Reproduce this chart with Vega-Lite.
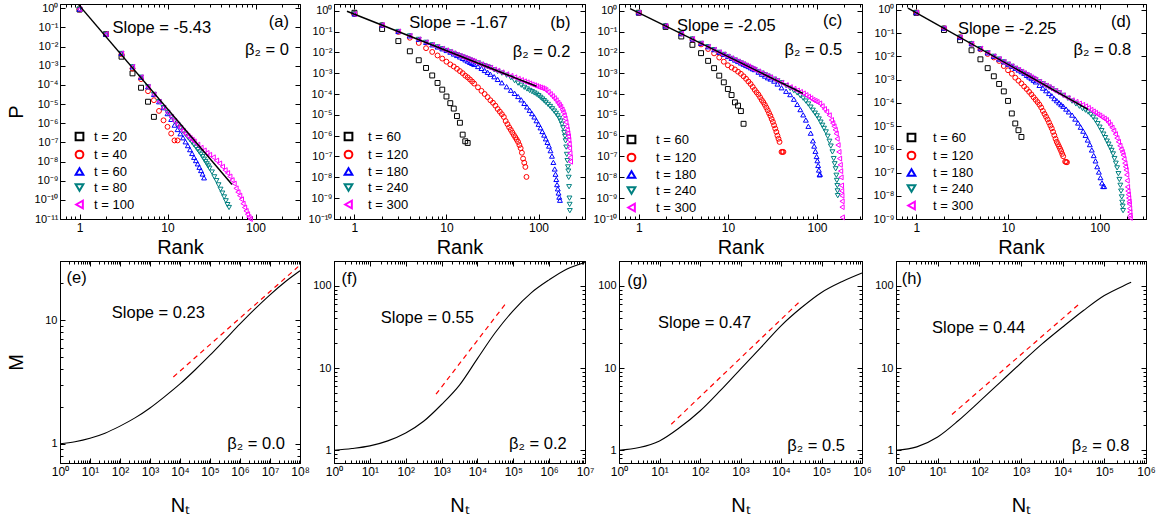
{
"$schema": "https://vega.github.io/schema/vega-lite/v6.json",
"background": "white",
"padding": {"left": 5, "top": 0, "right": 5, "bottom": 5},
"resolve": {"scale": {"color": "independent", "shape": "independent"}, "legend": {"color": "independent", "shape": "independent"}},
"datasets": {
"pts": [
{"p":"a","t":"t = 20","r":1,"lp":-0.07},{"p":"a","t":"t = 20","r":2,"lp":-1.35},{"p":"a","t":"t = 20","r":3,"lp":-2.53},{"p":"a","t":"t = 20","r":4,"lp":-3.4},{"p":"a","t":"t = 20","r":5,"lp":-4.15},{"p":"a","t":"t = 20","r":6,"lp":-4.88},{"p":"a","t":"t = 20","r":7,"lp":-5.67},
{"p":"a","t":"t = 40","r":1,"lp":-0.07},{"p":"a","t":"t = 40","r":2,"lp":-1.35},{"p":"a","t":"t = 40","r":3,"lp":-2.4},{"p":"a","t":"t = 40","r":4,"lp":-3.15},{"p":"a","t":"t = 40","r":5,"lp":-3.7},{"p":"a","t":"t = 40","r":6,"lp":-4.33},{"p":"a","t":"t = 40","r":7,"lp":-4.8},{"p":"a","t":"t = 40","r":8,"lp":-5.36},{"p":"a","t":"t = 40","r":9,"lp":-5.85},{"p":"a","t":"t = 40","r":10,"lp":-6.19},{"p":"a","t":"t = 40","r":11,"lp":-6.54},{"p":"a","t":"t = 40","r":12,"lp":-6.9},{"p":"a","t":"t = 40","r":13,"lp":-6.9},
{"p":"a","t":"t = 60","r":1,"lp":-0.05},{"p":"a","t":"t = 60","r":2,"lp":-1.35},{"p":"a","t":"t = 60","r":3,"lp":-2.36},{"p":"a","t":"t = 60","r":4,"lp":-3.06},{"p":"a","t":"t = 60","r":5,"lp":-3.6},{"p":"a","t":"t = 60","r":6,"lp":-4.1},{"p":"a","t":"t = 60","r":7,"lp":-4.5},{"p":"a","t":"t = 60","r":8,"lp":-4.88},{"p":"a","t":"t = 60","r":9,"lp":-5.19},{"p":"a","t":"t = 60","r":10,"lp":-5.5},{"p":"a","t":"t = 60","r":11,"lp":-5.8},{"p":"a","t":"t = 60","r":12,"lp":-6.1},{"p":"a","t":"t = 60","r":13,"lp":-6.33},{"p":"a","t":"t = 60","r":14,"lp":-6.55},{"p":"a","t":"t = 60","r":15,"lp":-6.76},{"p":"a","t":"t = 60","r":16,"lp":-6.97},{"p":"a","t":"t = 60","r":17,"lp":-7.17},{"p":"a","t":"t = 60","r":18,"lp":-7.38},{"p":"a","t":"t = 60","r":19,"lp":-7.58},{"p":"a","t":"t = 60","r":20,"lp":-7.78},{"p":"a","t":"t = 60","r":21,"lp":-7.95},{"p":"a","t":"t = 60","r":22,"lp":-8.12},{"p":"a","t":"t = 60","r":23,"lp":-8.3},{"p":"a","t":"t = 60","r":24,"lp":-8.47},{"p":"a","t":"t = 60","r":25,"lp":-8.65},{"p":"a","t":"t = 60","r":26,"lp":-8.85},
{"p":"a","t":"t = 80","r":1,"lp":-0.05},{"p":"a","t":"t = 80","r":2,"lp":-1.35},{"p":"a","t":"t = 80","r":3,"lp":-2.36},{"p":"a","t":"t = 80","r":4,"lp":-3.06},{"p":"a","t":"t = 80","r":5,"lp":-3.6},{"p":"a","t":"t = 80","r":6,"lp":-4.1},{"p":"a","t":"t = 80","r":7,"lp":-4.5},{"p":"a","t":"t = 80","r":8,"lp":-4.88},{"p":"a","t":"t = 80","r":9,"lp":-5.19},{"p":"a","t":"t = 80","r":10,"lp":-5.44},{"p":"a","t":"t = 80","r":11,"lp":-5.68},{"p":"a","t":"t = 80","r":12,"lp":-5.89},{"p":"a","t":"t = 80","r":13,"lp":-6.07},{"p":"a","t":"t = 80","r":14,"lp":-6.24},{"p":"a","t":"t = 80","r":15,"lp":-6.42},{"p":"a","t":"t = 80","r":16,"lp":-6.58},{"p":"a","t":"t = 80","r":17,"lp":-6.73},{"p":"a","t":"t = 80","r":18,"lp":-6.87},{"p":"a","t":"t = 80","r":19,"lp":-7.0},{"p":"a","t":"t = 80","r":20,"lp":-7.13},{"p":"a","t":"t = 80","r":21,"lp":-7.25},{"p":"a","t":"t = 80","r":22,"lp":-7.38},{"p":"a","t":"t = 80","r":23,"lp":-7.5},{"p":"a","t":"t = 80","r":24,"lp":-7.62},{"p":"a","t":"t = 80","r":25,"lp":-7.75},{"p":"a","t":"t = 80","r":26,"lp":-7.88},{"p":"a","t":"t = 80","r":27,"lp":-8.0},{"p":"a","t":"t = 80","r":28,"lp":-8.12},{"p":"a","t":"t = 80","r":29,"lp":-8.23},{"p":"a","t":"t = 80","r":30,"lp":-8.35},{"p":"a","t":"t = 80","r":32,"lp":-8.55},{"p":"a","t":"t = 80","r":34,"lp":-8.8},{"p":"a","t":"t = 80","r":36,"lp":-9.0},{"p":"a","t":"t = 80","r":38,"lp":-9.22},{"p":"a","t":"t = 80","r":40,"lp":-9.45},{"p":"a","t":"t = 80","r":42,"lp":-9.65},{"p":"a","t":"t = 80","r":44,"lp":-9.85},{"p":"a","t":"t = 80","r":46,"lp":-10.05},{"p":"a","t":"t = 80","r":48,"lp":-10.25},{"p":"a","t":"t = 80","r":50,"lp":-10.4},
{"p":"a","t":"t = 100","r":1,"lp":-0.05},{"p":"a","t":"t = 100","r":2,"lp":-1.35},{"p":"a","t":"t = 100","r":3,"lp":-2.36},{"p":"a","t":"t = 100","r":4,"lp":-3.06},{"p":"a","t":"t = 100","r":5,"lp":-3.6},{"p":"a","t":"t = 100","r":6,"lp":-4.1},{"p":"a","t":"t = 100","r":7,"lp":-4.5},{"p":"a","t":"t = 100","r":8,"lp":-4.88},{"p":"a","t":"t = 100","r":9,"lp":-5.19},{"p":"a","t":"t = 100","r":10,"lp":-5.44},{"p":"a","t":"t = 100","r":11,"lp":-5.68},{"p":"a","t":"t = 100","r":12,"lp":-5.89},{"p":"a","t":"t = 100","r":13,"lp":-6.07},{"p":"a","t":"t = 100","r":14,"lp":-6.24},{"p":"a","t":"t = 100","r":15,"lp":-6.4},{"p":"a","t":"t = 100","r":16,"lp":-6.54},{"p":"a","t":"t = 100","r":17,"lp":-6.66},{"p":"a","t":"t = 100","r":18,"lp":-6.77},{"p":"a","t":"t = 100","r":19,"lp":-6.86},{"p":"a","t":"t = 100","r":20,"lp":-6.95},{"p":"a","t":"t = 100","r":22,"lp":-7.12},{"p":"a","t":"t = 100","r":24,"lp":-7.28},{"p":"a","t":"t = 100","r":26,"lp":-7.42},{"p":"a","t":"t = 100","r":28,"lp":-7.55},{"p":"a","t":"t = 100","r":30,"lp":-7.65},{"p":"a","t":"t = 100","r":33,"lp":-7.78},{"p":"a","t":"t = 100","r":36,"lp":-7.95},{"p":"a","t":"t = 100","r":39,"lp":-8.1},{"p":"a","t":"t = 100","r":42,"lp":-8.27},{"p":"a","t":"t = 100","r":45,"lp":-8.45},{"p":"a","t":"t = 100","r":48,"lp":-8.6},{"p":"a","t":"t = 100","r":51,"lp":-8.78},{"p":"a","t":"t = 100","r":54,"lp":-8.97},{"p":"a","t":"t = 100","r":57,"lp":-9.15},{"p":"a","t":"t = 100","r":60,"lp":-9.4},{"p":"a","t":"t = 100","r":63,"lp":-9.6},{"p":"a","t":"t = 100","r":66,"lp":-9.78},{"p":"a","t":"t = 100","r":69,"lp":-9.97},{"p":"a","t":"t = 100","r":72,"lp":-10.2},{"p":"a","t":"t = 100","r":75,"lp":-10.4},{"p":"a","t":"t = 100","r":78,"lp":-10.58},{"p":"a","t":"t = 100","r":81,"lp":-10.75},{"p":"a","t":"t = 100","r":84,"lp":-10.9},{"p":"a","t":"t = 100","r":87,"lp":-11.0},

{"p":"b","t":"t = 60","r":1,"lp":-0.1},{"p":"b","t":"t = 60","r":2,"lp":-0.88},{"p":"b","t":"t = 60","r":3,"lp":-1.46},{"p":"b","t":"t = 60","r":4,"lp":-1.95},{"p":"b","t":"t = 60","r":5,"lp":-2.38},{"p":"b","t":"t = 60","r":6,"lp":-2.75},{"p":"b","t":"t = 60","r":7,"lp":-3.11},{"p":"b","t":"t = 60","r":8,"lp":-3.47},{"p":"b","t":"t = 60","r":9,"lp":-3.79},{"p":"b","t":"t = 60","r":10,"lp":-4.12},{"p":"b","t":"t = 60","r":11,"lp":-4.44},{"p":"b","t":"t = 60","r":12,"lp":-4.7},{"p":"b","t":"t = 60","r":13,"lp":-5.06},{"p":"b","t":"t = 60","r":14,"lp":-5.38},{"p":"b","t":"t = 60","r":15,"lp":-5.95},{"p":"b","t":"t = 60","r":16,"lp":-6.27},{"p":"b","t":"t = 60","r":17,"lp":-6.35},
{"p":"b","t":"t = 120","r":1,"lp":-0.16},{"p":"b","t":"t = 120","r":2,"lp":-0.69},{"p":"b","t":"t = 120","r":3,"lp":-1.02},{"p":"b","t":"t = 120","r":4,"lp":-1.3},{"p":"b","t":"t = 120","r":5,"lp":-1.55},{"p":"b","t":"t = 120","r":6,"lp":-1.8},{"p":"b","t":"t = 120","r":7,"lp":-1.98},{"p":"b","t":"t = 120","r":8,"lp":-2.15},{"p":"b","t":"t = 120","r":9,"lp":-2.3},{"p":"b","t":"t = 120","r":10,"lp":-2.45},{"p":"b","t":"t = 120","r":11,"lp":-2.58},{"p":"b","t":"t = 120","r":12,"lp":-2.68},{"p":"b","t":"t = 120","r":13,"lp":-2.79},{"p":"b","t":"t = 120","r":14,"lp":-2.9},{"p":"b","t":"t = 120","r":15,"lp":-3.0},{"p":"b","t":"t = 120","r":16,"lp":-3.12},{"p":"b","t":"t = 120","r":17,"lp":-3.2},{"p":"b","t":"t = 120","r":18,"lp":-3.3},{"p":"b","t":"t = 120","r":19,"lp":-3.4},{"p":"b","t":"t = 120","r":20,"lp":-3.5},{"p":"b","t":"t = 120","r":22,"lp":-3.68},{"p":"b","t":"t = 120","r":24,"lp":-3.85},{"p":"b","t":"t = 120","r":26,"lp":-4.0},{"p":"b","t":"t = 120","r":28,"lp":-4.15},{"p":"b","t":"t = 120","r":30,"lp":-4.3},{"p":"b","t":"t = 120","r":32,"lp":-4.42},{"p":"b","t":"t = 120","r":34,"lp":-4.56},{"p":"b","t":"t = 120","r":36,"lp":-4.72},{"p":"b","t":"t = 120","r":38,"lp":-4.85},{"p":"b","t":"t = 120","r":40,"lp":-4.97},{"p":"b","t":"t = 120","r":42,"lp":-5.1},{"p":"b","t":"t = 120","r":44,"lp":-5.3},{"p":"b","t":"t = 120","r":46,"lp":-5.45},{"p":"b","t":"t = 120","r":48,"lp":-5.6},{"p":"b","t":"t = 120","r":50,"lp":-5.72},{"p":"b","t":"t = 120","r":52,"lp":-5.85},{"p":"b","t":"t = 120","r":54,"lp":-5.97},{"p":"b","t":"t = 120","r":56,"lp":-6.08},{"p":"b","t":"t = 120","r":58,"lp":-6.19},{"p":"b","t":"t = 120","r":60,"lp":-6.3},{"p":"b","t":"t = 120","r":62,"lp":-6.45},{"p":"b","t":"t = 120","r":64,"lp":-6.6},{"p":"b","t":"t = 120","r":66,"lp":-6.82},{"p":"b","t":"t = 120","r":68,"lp":-7.1},{"p":"b","t":"t = 120","r":70,"lp":-7.3},{"p":"b","t":"t = 120","r":72,"lp":-7.5},{"p":"b","t":"t = 120","r":74,"lp":-7.98},
{"p":"b","t":"t = 180","r":1,"lp":-0.16},{"p":"b","t":"t = 180","r":2,"lp":-0.69},{"p":"b","t":"t = 180","r":3,"lp":-1.0},{"p":"b","t":"t = 180","r":4,"lp":-1.21},{"p":"b","t":"t = 180","r":5,"lp":-1.38},{"p":"b","t":"t = 180","r":6,"lp":-1.52},{"p":"b","t":"t = 180","r":7,"lp":-1.64},{"p":"b","t":"t = 180","r":8,"lp":-1.74},{"p":"b","t":"t = 180","r":9,"lp":-1.83},{"p":"b","t":"t = 180","r":10,"lp":-1.91},{"p":"b","t":"t = 180","r":11,"lp":-1.99},{"p":"b","t":"t = 180","r":12,"lp":-2.08},{"p":"b","t":"t = 180","r":13,"lp":-2.15},{"p":"b","t":"t = 180","r":14,"lp":-2.22},{"p":"b","t":"t = 180","r":15,"lp":-2.29},{"p":"b","t":"t = 180","r":16,"lp":-2.36},{"p":"b","t":"t = 180","r":17,"lp":-2.42},{"p":"b","t":"t = 180","r":18,"lp":-2.48},{"p":"b","t":"t = 180","r":19,"lp":-2.53},{"p":"b","t":"t = 180","r":20,"lp":-2.58},{"p":"b","t":"t = 180","r":22,"lp":-2.68},{"p":"b","t":"t = 180","r":24,"lp":-2.77},{"p":"b","t":"t = 180","r":26,"lp":-2.87},{"p":"b","t":"t = 180","r":28,"lp":-2.96},{"p":"b","t":"t = 180","r":30,"lp":-3.05},{"p":"b","t":"t = 180","r":33,"lp":-3.17},{"p":"b","t":"t = 180","r":36,"lp":-3.3},{"p":"b","t":"t = 180","r":40,"lp":-3.46},{"p":"b","t":"t = 180","r":45,"lp":-3.65},{"p":"b","t":"t = 180","r":50,"lp":-3.82},{"p":"b","t":"t = 180","r":55,"lp":-3.97},{"p":"b","t":"t = 180","r":60,"lp":-4.12},{"p":"b","t":"t = 180","r":65,"lp":-4.28},{"p":"b","t":"t = 180","r":70,"lp":-4.45},{"p":"b","t":"t = 180","r":75,"lp":-4.62},{"p":"b","t":"t = 180","r":80,"lp":-4.78},{"p":"b","t":"t = 180","r":85,"lp":-4.94},{"p":"b","t":"t = 180","r":90,"lp":-5.1},{"p":"b","t":"t = 180","r":95,"lp":-5.28},{"p":"b","t":"t = 180","r":100,"lp":-5.45},{"p":"b","t":"t = 180","r":105,"lp":-5.62},{"p":"b","t":"t = 180","r":110,"lp":-5.8},{"p":"b","t":"t = 180","r":115,"lp":-5.97},{"p":"b","t":"t = 180","r":120,"lp":-6.15},{"p":"b","t":"t = 180","r":125,"lp":-6.32},{"p":"b","t":"t = 180","r":130,"lp":-6.5},{"p":"b","t":"t = 180","r":135,"lp":-6.72},{"p":"b","t":"t = 180","r":140,"lp":-6.98},{"p":"b","t":"t = 180","r":145,"lp":-7.28},{"p":"b","t":"t = 180","r":150,"lp":-7.6},{"p":"b","t":"t = 180","r":153,"lp":-7.85},{"p":"b","t":"t = 180","r":156,"lp":-8.1},{"p":"b","t":"t = 180","r":159,"lp":-8.35},{"p":"b","t":"t = 180","r":162,"lp":-8.55},{"p":"b","t":"t = 180","r":165,"lp":-8.75},{"p":"b","t":"t = 180","r":168,"lp":-8.95},{"p":"b","t":"t = 180","r":171,"lp":-9.1},
{"p":"b","t":"t = 240","r":1,"lp":-0.16},{"p":"b","t":"t = 240","r":2,"lp":-0.69},{"p":"b","t":"t = 240","r":3,"lp":-1.0},{"p":"b","t":"t = 240","r":4,"lp":-1.21},{"p":"b","t":"t = 240","r":5,"lp":-1.38},{"p":"b","t":"t = 240","r":6,"lp":-1.52},{"p":"b","t":"t = 240","r":7,"lp":-1.64},{"p":"b","t":"t = 240","r":8,"lp":-1.74},{"p":"b","t":"t = 240","r":9,"lp":-1.83},{"p":"b","t":"t = 240","r":10,"lp":-1.91},{"p":"b","t":"t = 240","r":11,"lp":-1.98},{"p":"b","t":"t = 240","r":12,"lp":-2.05},{"p":"b","t":"t = 240","r":13,"lp":-2.11},{"p":"b","t":"t = 240","r":14,"lp":-2.17},{"p":"b","t":"t = 240","r":15,"lp":-2.22},{"p":"b","t":"t = 240","r":16,"lp":-2.27},{"p":"b","t":"t = 240","r":17,"lp":-2.31},{"p":"b","t":"t = 240","r":18,"lp":-2.36},{"p":"b","t":"t = 240","r":19,"lp":-2.4},{"p":"b","t":"t = 240","r":20,"lp":-2.44},{"p":"b","t":"t = 240","r":22,"lp":-2.51},{"p":"b","t":"t = 240","r":24,"lp":-2.58},{"p":"b","t":"t = 240","r":26,"lp":-2.64},{"p":"b","t":"t = 240","r":28,"lp":-2.69},{"p":"b","t":"t = 240","r":30,"lp":-2.74},{"p":"b","t":"t = 240","r":33,"lp":-2.84},{"p":"b","t":"t = 240","r":36,"lp":-2.92},{"p":"b","t":"t = 240","r":40,"lp":-3.0},{"p":"b","t":"t = 240","r":45,"lp":-3.1},{"p":"b","t":"t = 240","r":50,"lp":-3.22},{"p":"b","t":"t = 240","r":55,"lp":-3.36},{"p":"b","t":"t = 240","r":60,"lp":-3.48},{"p":"b","t":"t = 240","r":65,"lp":-3.58},{"p":"b","t":"t = 240","r":70,"lp":-3.68},{"p":"b","t":"t = 240","r":75,"lp":-3.76},{"p":"b","t":"t = 240","r":80,"lp":-3.83},{"p":"b","t":"t = 240","r":85,"lp":-3.89},{"p":"b","t":"t = 240","r":90,"lp":-3.95},{"p":"b","t":"t = 240","r":95,"lp":-4.01},{"p":"b","t":"t = 240","r":100,"lp":-4.08},{"p":"b","t":"t = 240","r":105,"lp":-4.16},{"p":"b","t":"t = 240","r":110,"lp":-4.24},{"p":"b","t":"t = 240","r":115,"lp":-4.32},{"p":"b","t":"t = 240","r":120,"lp":-4.4},{"p":"b","t":"t = 240","r":127,"lp":-4.5},{"p":"b","t":"t = 240","r":134,"lp":-4.6},{"p":"b","t":"t = 240","r":141,"lp":-4.71},{"p":"b","t":"t = 240","r":148,"lp":-4.82},{"p":"b","t":"t = 240","r":155,"lp":-4.93},{"p":"b","t":"t = 240","r":162,"lp":-5.05},{"p":"b","t":"t = 240","r":168,"lp":-5.17},{"p":"b","t":"t = 240","r":174,"lp":-5.3},{"p":"b","t":"t = 240","r":180,"lp":-5.45},{"p":"b","t":"t = 240","r":185,"lp":-5.62},{"p":"b","t":"t = 240","r":190,"lp":-5.85},{"p":"b","t":"t = 240","r":194,"lp":-6.03},{"p":"b","t":"t = 240","r":197,"lp":-6.25},{"p":"b","t":"t = 240","r":200,"lp":-6.55},{"p":"b","t":"t = 240","r":203,"lp":-6.9},{"p":"b","t":"t = 240","r":206,"lp":-7.2},{"p":"b","t":"t = 240","r":209,"lp":-7.5},{"p":"b","t":"t = 240","r":211,"lp":-7.7},{"p":"b","t":"t = 240","r":213,"lp":-8.0},{"p":"b","t":"t = 240","r":215,"lp":-8.45},{"p":"b","t":"t = 240","r":217,"lp":-9.0},{"p":"b","t":"t = 240","r":218,"lp":-9.3},{"p":"b","t":"t = 240","r":219,"lp":-9.6},
{"p":"b","t":"t = 300","r":1,"lp":-0.16},{"p":"b","t":"t = 300","r":2,"lp":-0.69},{"p":"b","t":"t = 300","r":3,"lp":-1.0},{"p":"b","t":"t = 300","r":4,"lp":-1.21},{"p":"b","t":"t = 300","r":5,"lp":-1.38},{"p":"b","t":"t = 300","r":6,"lp":-1.52},{"p":"b","t":"t = 300","r":7,"lp":-1.64},{"p":"b","t":"t = 300","r":8,"lp":-1.74},{"p":"b","t":"t = 300","r":9,"lp":-1.83},{"p":"b","t":"t = 300","r":10,"lp":-1.91},{"p":"b","t":"t = 300","r":11,"lp":-1.98},{"p":"b","t":"t = 300","r":12,"lp":-2.05},{"p":"b","t":"t = 300","r":13,"lp":-2.11},{"p":"b","t":"t = 300","r":14,"lp":-2.17},{"p":"b","t":"t = 300","r":15,"lp":-2.22},{"p":"b","t":"t = 300","r":16,"lp":-2.27},{"p":"b","t":"t = 300","r":17,"lp":-2.31},{"p":"b","t":"t = 300","r":18,"lp":-2.36},{"p":"b","t":"t = 300","r":19,"lp":-2.4},{"p":"b","t":"t = 300","r":20,"lp":-2.44},{"p":"b","t":"t = 300","r":22,"lp":-2.51},{"p":"b","t":"t = 300","r":24,"lp":-2.58},{"p":"b","t":"t = 300","r":26,"lp":-2.64},{"p":"b","t":"t = 300","r":28,"lp":-2.69},{"p":"b","t":"t = 300","r":30,"lp":-2.74},{"p":"b","t":"t = 300","r":33,"lp":-2.82},{"p":"b","t":"t = 300","r":36,"lp":-2.88},{"p":"b","t":"t = 300","r":40,"lp":-2.96},{"p":"b","t":"t = 300","r":45,"lp":-3.05},{"p":"b","t":"t = 300","r":50,"lp":-3.13},{"p":"b","t":"t = 300","r":55,"lp":-3.2},{"p":"b","t":"t = 300","r":60,"lp":-3.27},{"p":"b","t":"t = 300","r":65,"lp":-3.33},{"p":"b","t":"t = 300","r":70,"lp":-3.39},{"p":"b","t":"t = 300","r":75,"lp":-3.44},{"p":"b","t":"t = 300","r":80,"lp":-3.49},{"p":"b","t":"t = 300","r":85,"lp":-3.54},{"p":"b","t":"t = 300","r":90,"lp":-3.58},{"p":"b","t":"t = 300","r":95,"lp":-3.62},{"p":"b","t":"t = 300","r":100,"lp":-3.66},{"p":"b","t":"t = 300","r":105,"lp":-3.69},{"p":"b","t":"t = 300","r":110,"lp":-3.72},{"p":"b","t":"t = 300","r":115,"lp":-3.76},{"p":"b","t":"t = 300","r":120,"lp":-3.81},{"p":"b","t":"t = 300","r":127,"lp":-3.9},{"p":"b","t":"t = 300","r":134,"lp":-4.0},{"p":"b","t":"t = 300","r":141,"lp":-4.1},{"p":"b","t":"t = 300","r":148,"lp":-4.2},{"p":"b","t":"t = 300","r":155,"lp":-4.3},{"p":"b","t":"t = 300","r":162,"lp":-4.42},{"p":"b","t":"t = 300","r":168,"lp":-4.52},{"p":"b","t":"t = 300","r":174,"lp":-4.62},{"p":"b","t":"t = 300","r":180,"lp":-4.75},{"p":"b","t":"t = 300","r":185,"lp":-4.87},{"p":"b","t":"t = 300","r":190,"lp":-5.02},{"p":"b","t":"t = 300","r":194,"lp":-5.18},{"p":"b","t":"t = 300","r":198,"lp":-5.35},{"p":"b","t":"t = 300","r":202,"lp":-5.55},{"p":"b","t":"t = 300","r":205,"lp":-5.72},{"p":"b","t":"t = 300","r":208,"lp":-5.88},{"p":"b","t":"t = 300","r":211,"lp":-6.03},{"p":"b","t":"t = 300","r":213,"lp":-6.2},{"p":"b","t":"t = 300","r":215,"lp":-6.4},{"p":"b","t":"t = 300","r":217,"lp":-6.6},{"p":"b","t":"t = 300","r":219,"lp":-6.84},{"p":"b","t":"t = 300","r":221,"lp":-7.05},{"p":"b","t":"t = 300","r":222,"lp":-7.25},

{"p":"c","t":"t = 60","r":1,"lp":-0.1},{"p":"c","t":"t = 60","r":2,"lp":-0.78},{"p":"c","t":"t = 60","r":3,"lp":-1.24},{"p":"c","t":"t = 60","r":4,"lp":-1.64},{"p":"c","t":"t = 60","r":5,"lp":-2.04},{"p":"c","t":"t = 60","r":6,"lp":-2.41},{"p":"c","t":"t = 60","r":7,"lp":-2.76},{"p":"c","t":"t = 60","r":8,"lp":-3.12},{"p":"c","t":"t = 60","r":9,"lp":-3.44},{"p":"c","t":"t = 60","r":10,"lp":-3.76},{"p":"c","t":"t = 60","r":11,"lp":-4.05},{"p":"c","t":"t = 60","r":12,"lp":-4.4},{"p":"c","t":"t = 60","r":13,"lp":-4.56},{"p":"c","t":"t = 60","r":14,"lp":-4.82},{"p":"c","t":"t = 60","r":15,"lp":-5.43},
{"p":"c","t":"t = 120","r":1,"lp":-0.1},{"p":"c","t":"t = 120","r":2,"lp":-0.73},{"p":"c","t":"t = 120","r":3,"lp":-1.1},{"p":"c","t":"t = 120","r":4,"lp":-1.38},{"p":"c","t":"t = 120","r":5,"lp":-1.62},{"p":"c","t":"t = 120","r":6,"lp":-1.84},{"p":"c","t":"t = 120","r":7,"lp":-2.05},{"p":"c","t":"t = 120","r":8,"lp":-2.25},{"p":"c","t":"t = 120","r":9,"lp":-2.45},{"p":"c","t":"t = 120","r":10,"lp":-2.62},{"p":"c","t":"t = 120","r":11,"lp":-2.73},{"p":"c","t":"t = 120","r":12,"lp":-2.82},{"p":"c","t":"t = 120","r":13,"lp":-2.93},{"p":"c","t":"t = 120","r":14,"lp":-3.03},{"p":"c","t":"t = 120","r":15,"lp":-3.15},{"p":"c","t":"t = 120","r":16,"lp":-3.27},{"p":"c","t":"t = 120","r":17,"lp":-3.4},{"p":"c","t":"t = 120","r":18,"lp":-3.52},{"p":"c","t":"t = 120","r":19,"lp":-3.66},{"p":"c","t":"t = 120","r":20,"lp":-3.8},{"p":"c","t":"t = 120","r":21,"lp":-3.92},{"p":"c","t":"t = 120","r":22,"lp":-4.03},{"p":"c","t":"t = 120","r":23,"lp":-4.16},{"p":"c","t":"t = 120","r":24,"lp":-4.29},{"p":"c","t":"t = 120","r":25,"lp":-4.4},{"p":"c","t":"t = 120","r":26,"lp":-4.52},{"p":"c","t":"t = 120","r":27,"lp":-4.65},{"p":"c","t":"t = 120","r":28,"lp":-4.78},{"p":"c","t":"t = 120","r":29,"lp":-4.92},{"p":"c","t":"t = 120","r":30,"lp":-5.05},{"p":"c","t":"t = 120","r":31,"lp":-5.2},{"p":"c","t":"t = 120","r":32,"lp":-5.34},{"p":"c","t":"t = 120","r":33,"lp":-5.5},{"p":"c","t":"t = 120","r":34,"lp":-5.66},{"p":"c","t":"t = 120","r":35,"lp":-5.82},{"p":"c","t":"t = 120","r":36,"lp":-6.0},{"p":"c","t":"t = 120","r":37,"lp":-6.15},{"p":"c","t":"t = 120","r":38,"lp":-6.3},{"p":"c","t":"t = 120","r":40,"lp":-6.78},{"p":"c","t":"t = 120","r":41,"lp":-6.78},{"p":"c","t":"t = 120","r":42,"lp":-6.78},
{"p":"c","t":"t = 180","r":1,"lp":-0.1},{"p":"c","t":"t = 180","r":2,"lp":-0.73},{"p":"c","t":"t = 180","r":3,"lp":-1.1},{"p":"c","t":"t = 180","r":4,"lp":-1.36},{"p":"c","t":"t = 180","r":5,"lp":-1.57},{"p":"c","t":"t = 180","r":6,"lp":-1.73},{"p":"c","t":"t = 180","r":7,"lp":-1.87},{"p":"c","t":"t = 180","r":8,"lp":-2.0},{"p":"c","t":"t = 180","r":9,"lp":-2.1},{"p":"c","t":"t = 180","r":10,"lp":-2.2},{"p":"c","t":"t = 180","r":11,"lp":-2.29},{"p":"c","t":"t = 180","r":12,"lp":-2.37},{"p":"c","t":"t = 180","r":13,"lp":-2.44},{"p":"c","t":"t = 180","r":14,"lp":-2.51},{"p":"c","t":"t = 180","r":15,"lp":-2.57},{"p":"c","t":"t = 180","r":16,"lp":-2.63},{"p":"c","t":"t = 180","r":17,"lp":-2.68},{"p":"c","t":"t = 180","r":18,"lp":-2.74},{"p":"c","t":"t = 180","r":19,"lp":-2.79},{"p":"c","t":"t = 180","r":20,"lp":-2.83},{"p":"c","t":"t = 180","r":22,"lp":-2.95},{"p":"c","t":"t = 180","r":24,"lp":-3.05},{"p":"c","t":"t = 180","r":26,"lp":-3.14},{"p":"c","t":"t = 180","r":28,"lp":-3.22},{"p":"c","t":"t = 180","r":30,"lp":-3.28},{"p":"c","t":"t = 180","r":33,"lp":-3.38},{"p":"c","t":"t = 180","r":36,"lp":-3.52},{"p":"c","t":"t = 180","r":40,"lp":-3.7},{"p":"c","t":"t = 180","r":45,"lp":-3.87},{"p":"c","t":"t = 180","r":50,"lp":-4.03},{"p":"c","t":"t = 180","r":55,"lp":-4.25},{"p":"c","t":"t = 180","r":60,"lp":-4.5},{"p":"c","t":"t = 180","r":65,"lp":-4.75},{"p":"c","t":"t = 180","r":70,"lp":-5.0},{"p":"c","t":"t = 180","r":75,"lp":-5.25},{"p":"c","t":"t = 180","r":80,"lp":-5.55},{"p":"c","t":"t = 180","r":85,"lp":-5.88},{"p":"c","t":"t = 180","r":90,"lp":-6.25},{"p":"c","t":"t = 180","r":93,"lp":-6.5},{"p":"c","t":"t = 180","r":96,"lp":-6.75},{"p":"c","t":"t = 180","r":99,"lp":-7.0},{"p":"c","t":"t = 180","r":101,"lp":-7.2},{"p":"c","t":"t = 180","r":103,"lp":-7.43},{"p":"c","t":"t = 180","r":105,"lp":-7.65},{"p":"c","t":"t = 180","r":107,"lp":-7.88},{"p":"c","t":"t = 180","r":108,"lp":-7.85},
{"p":"c","t":"t = 240","r":1,"lp":-0.1},{"p":"c","t":"t = 240","r":2,"lp":-0.73},{"p":"c","t":"t = 240","r":3,"lp":-1.1},{"p":"c","t":"t = 240","r":4,"lp":-1.36},{"p":"c","t":"t = 240","r":5,"lp":-1.57},{"p":"c","t":"t = 240","r":6,"lp":-1.73},{"p":"c","t":"t = 240","r":7,"lp":-1.87},{"p":"c","t":"t = 240","r":8,"lp":-2.0},{"p":"c","t":"t = 240","r":9,"lp":-2.1},{"p":"c","t":"t = 240","r":10,"lp":-2.2},{"p":"c","t":"t = 240","r":11,"lp":-2.29},{"p":"c","t":"t = 240","r":12,"lp":-2.37},{"p":"c","t":"t = 240","r":13,"lp":-2.44},{"p":"c","t":"t = 240","r":14,"lp":-2.51},{"p":"c","t":"t = 240","r":15,"lp":-2.57},{"p":"c","t":"t = 240","r":16,"lp":-2.63},{"p":"c","t":"t = 240","r":17,"lp":-2.68},{"p":"c","t":"t = 240","r":18,"lp":-2.74},{"p":"c","t":"t = 240","r":19,"lp":-2.79},{"p":"c","t":"t = 240","r":20,"lp":-2.83},{"p":"c","t":"t = 240","r":22,"lp":-2.92},{"p":"c","t":"t = 240","r":24,"lp":-3.0},{"p":"c","t":"t = 240","r":26,"lp":-3.07},{"p":"c","t":"t = 240","r":28,"lp":-3.14},{"p":"c","t":"t = 240","r":30,"lp":-3.2},{"p":"c","t":"t = 240","r":33,"lp":-3.29},{"p":"c","t":"t = 240","r":36,"lp":-3.37},{"p":"c","t":"t = 240","r":40,"lp":-3.46},{"p":"c","t":"t = 240","r":45,"lp":-3.6},{"p":"c","t":"t = 240","r":50,"lp":-3.73},{"p":"c","t":"t = 240","r":55,"lp":-3.84},{"p":"c","t":"t = 240","r":60,"lp":-3.95},{"p":"c","t":"t = 240","r":65,"lp":-4.08},{"p":"c","t":"t = 240","r":70,"lp":-4.2},{"p":"c","t":"t = 240","r":75,"lp":-4.34},{"p":"c","t":"t = 240","r":80,"lp":-4.48},{"p":"c","t":"t = 240","r":85,"lp":-4.63},{"p":"c","t":"t = 240","r":90,"lp":-4.78},{"p":"c","t":"t = 240","r":95,"lp":-4.92},{"p":"c","t":"t = 240","r":100,"lp":-5.05},{"p":"c","t":"t = 240","r":105,"lp":-5.2},{"p":"c","t":"t = 240","r":110,"lp":-5.35},{"p":"c","t":"t = 240","r":115,"lp":-5.5},{"p":"c","t":"t = 240","r":120,"lp":-5.65},{"p":"c","t":"t = 240","r":126,"lp":-5.82},{"p":"c","t":"t = 240","r":132,"lp":-6.03},{"p":"c","t":"t = 240","r":138,"lp":-6.27},{"p":"c","t":"t = 240","r":143,"lp":-6.5},{"p":"c","t":"t = 240","r":149,"lp":-6.78},{"p":"c","t":"t = 240","r":154,"lp":-7.1},{"p":"c","t":"t = 240","r":158,"lp":-7.35},{"p":"c","t":"t = 240","r":162,"lp":-7.59},{"p":"c","t":"t = 240","r":165,"lp":-7.9},{"p":"c","t":"t = 240","r":167,"lp":-8.15},{"p":"c","t":"t = 240","r":169,"lp":-8.4},{"p":"c","t":"t = 240","r":170,"lp":-8.65},{"p":"c","t":"t = 240","r":171,"lp":-8.88},
{"p":"c","t":"t = 300","r":1,"lp":-0.1},{"p":"c","t":"t = 300","r":2,"lp":-0.73},{"p":"c","t":"t = 300","r":3,"lp":-1.1},{"p":"c","t":"t = 300","r":4,"lp":-1.36},{"p":"c","t":"t = 300","r":5,"lp":-1.57},{"p":"c","t":"t = 300","r":6,"lp":-1.73},{"p":"c","t":"t = 300","r":7,"lp":-1.87},{"p":"c","t":"t = 300","r":8,"lp":-2.0},{"p":"c","t":"t = 300","r":9,"lp":-2.1},{"p":"c","t":"t = 300","r":10,"lp":-2.2},{"p":"c","t":"t = 300","r":11,"lp":-2.29},{"p":"c","t":"t = 300","r":12,"lp":-2.37},{"p":"c","t":"t = 300","r":13,"lp":-2.44},{"p":"c","t":"t = 300","r":14,"lp":-2.51},{"p":"c","t":"t = 300","r":15,"lp":-2.57},{"p":"c","t":"t = 300","r":16,"lp":-2.63},{"p":"c","t":"t = 300","r":17,"lp":-2.68},{"p":"c","t":"t = 300","r":18,"lp":-2.74},{"p":"c","t":"t = 300","r":19,"lp":-2.79},{"p":"c","t":"t = 300","r":20,"lp":-2.83},{"p":"c","t":"t = 300","r":22,"lp":-2.92},{"p":"c","t":"t = 300","r":24,"lp":-3.0},{"p":"c","t":"t = 300","r":26,"lp":-3.07},{"p":"c","t":"t = 300","r":28,"lp":-3.14},{"p":"c","t":"t = 300","r":30,"lp":-3.2},{"p":"c","t":"t = 300","r":33,"lp":-3.29},{"p":"c","t":"t = 300","r":36,"lp":-3.37},{"p":"c","t":"t = 300","r":40,"lp":-3.46},{"p":"c","t":"t = 300","r":45,"lp":-3.57},{"p":"c","t":"t = 300","r":50,"lp":-3.67},{"p":"c","t":"t = 300","r":55,"lp":-3.75},{"p":"c","t":"t = 300","r":60,"lp":-3.83},{"p":"c","t":"t = 300","r":65,"lp":-3.9},{"p":"c","t":"t = 300","r":70,"lp":-3.97},{"p":"c","t":"t = 300","r":75,"lp":-4.05},{"p":"c","t":"t = 300","r":80,"lp":-4.13},{"p":"c","t":"t = 300","r":85,"lp":-4.2},{"p":"c","t":"t = 300","r":90,"lp":-4.28},{"p":"c","t":"t = 300","r":95,"lp":-4.33},{"p":"c","t":"t = 300","r":100,"lp":-4.38},{"p":"c","t":"t = 300","r":107,"lp":-4.45},{"p":"c","t":"t = 300","r":114,"lp":-4.58},{"p":"c","t":"t = 300","r":121,"lp":-4.72},{"p":"c","t":"t = 300","r":128,"lp":-4.85},{"p":"c","t":"t = 300","r":137,"lp":-5.02},{"p":"c","t":"t = 300","r":145,"lp":-5.25},{"p":"c","t":"t = 300","r":150,"lp":-5.4},{"p":"c","t":"t = 300","r":155,"lp":-5.55},{"p":"c","t":"t = 300","r":160,"lp":-5.72},{"p":"c","t":"t = 300","r":164,"lp":-5.9},{"p":"c","t":"t = 300","r":168,"lp":-6.15},{"p":"c","t":"t = 300","r":172,"lp":-6.45},{"p":"c","t":"t = 300","r":176,"lp":-6.78},{"p":"c","t":"t = 300","r":179,"lp":-7.1},{"p":"c","t":"t = 300","r":182,"lp":-7.4},{"p":"c","t":"t = 300","r":184,"lp":-7.7},{"p":"c","t":"t = 300","r":186,"lp":-8.0},{"p":"c","t":"t = 300","r":188,"lp":-8.39},{"p":"c","t":"t = 300","r":189,"lp":-8.65},{"p":"c","t":"t = 300","r":190,"lp":-8.88},{"p":"c","t":"t = 300","r":191,"lp":-9.15},{"p":"c","t":"t = 300","r":191,"lp":-9.43},{"p":"c","t":"t = 300","r":192,"lp":-9.92},

{"p":"d","t":"t = 60","r":1,"lp":-0.13},{"p":"d","t":"t = 60","r":2,"lp":-0.87},{"p":"d","t":"t = 60","r":3,"lp":-1.31},{"p":"d","t":"t = 60","r":4,"lp":-1.74},{"p":"d","t":"t = 60","r":5,"lp":-2.13},{"p":"d","t":"t = 60","r":6,"lp":-2.51},{"p":"d","t":"t = 60","r":7,"lp":-2.86},{"p":"d","t":"t = 60","r":8,"lp":-3.19},{"p":"d","t":"t = 60","r":9,"lp":-3.51},{"p":"d","t":"t = 60","r":10,"lp":-3.92},{"p":"d","t":"t = 60","r":11,"lp":-4.46},{"p":"d","t":"t = 60","r":12,"lp":-4.89},{"p":"d","t":"t = 60","r":13,"lp":-5.18},{"p":"d","t":"t = 60","r":14,"lp":-5.47},
{"p":"d","t":"t = 120","r":1,"lp":-0.12},{"p":"d","t":"t = 120","r":2,"lp":-0.79},{"p":"d","t":"t = 120","r":3,"lp":-1.18},{"p":"d","t":"t = 120","r":4,"lp":-1.46},{"p":"d","t":"t = 120","r":5,"lp":-1.7},{"p":"d","t":"t = 120","r":6,"lp":-1.9},{"p":"d","t":"t = 120","r":7,"lp":-2.05},{"p":"d","t":"t = 120","r":8,"lp":-2.2},{"p":"d","t":"t = 120","r":9,"lp":-2.42},{"p":"d","t":"t = 120","r":10,"lp":-2.6},{"p":"d","t":"t = 120","r":11,"lp":-2.75},{"p":"d","t":"t = 120","r":12,"lp":-2.92},{"p":"d","t":"t = 120","r":13,"lp":-3.05},{"p":"d","t":"t = 120","r":14,"lp":-3.17},{"p":"d","t":"t = 120","r":15,"lp":-3.3},{"p":"d","t":"t = 120","r":16,"lp":-3.41},{"p":"d","t":"t = 120","r":17,"lp":-3.53},{"p":"d","t":"t = 120","r":18,"lp":-3.64},{"p":"d","t":"t = 120","r":19,"lp":-3.76},{"p":"d","t":"t = 120","r":20,"lp":-3.87},{"p":"d","t":"t = 120","r":21,"lp":-3.97},{"p":"d","t":"t = 120","r":22,"lp":-4.08},{"p":"d","t":"t = 120","r":23,"lp":-4.2},{"p":"d","t":"t = 120","r":24,"lp":-4.35},{"p":"d","t":"t = 120","r":25,"lp":-4.48},{"p":"d","t":"t = 120","r":26,"lp":-4.6},{"p":"d","t":"t = 120","r":27,"lp":-4.72},{"p":"d","t":"t = 120","r":28,"lp":-4.85},{"p":"d","t":"t = 120","r":29,"lp":-4.98},{"p":"d","t":"t = 120","r":30,"lp":-5.1},{"p":"d","t":"t = 120","r":31,"lp":-5.25},{"p":"d","t":"t = 120","r":32,"lp":-5.4},{"p":"d","t":"t = 120","r":33,"lp":-5.55},{"p":"d","t":"t = 120","r":34,"lp":-5.68},{"p":"d","t":"t = 120","r":35,"lp":-5.78},{"p":"d","t":"t = 120","r":36,"lp":-5.88},{"p":"d","t":"t = 120","r":37,"lp":-5.98},{"p":"d","t":"t = 120","r":38,"lp":-6.08},{"p":"d","t":"t = 120","r":39,"lp":-6.2},{"p":"d","t":"t = 120","r":40,"lp":-6.3},{"p":"d","t":"t = 120","r":42,"lp":-6.53},{"p":"d","t":"t = 120","r":43,"lp":-6.55},{"p":"d","t":"t = 120","r":44,"lp":-6.56},
{"p":"d","t":"t = 180","r":1,"lp":-0.12},{"p":"d","t":"t = 180","r":2,"lp":-0.79},{"p":"d","t":"t = 180","r":3,"lp":-1.18},{"p":"d","t":"t = 180","r":4,"lp":-1.46},{"p":"d","t":"t = 180","r":5,"lp":-1.67},{"p":"d","t":"t = 180","r":6,"lp":-1.85},{"p":"d","t":"t = 180","r":7,"lp":-2.0},{"p":"d","t":"t = 180","r":8,"lp":-2.12},{"p":"d","t":"t = 180","r":9,"lp":-2.24},{"p":"d","t":"t = 180","r":10,"lp":-2.34},{"p":"d","t":"t = 180","r":11,"lp":-2.43},{"p":"d","t":"t = 180","r":12,"lp":-2.52},{"p":"d","t":"t = 180","r":13,"lp":-2.59},{"p":"d","t":"t = 180","r":14,"lp":-2.66},{"p":"d","t":"t = 180","r":15,"lp":-2.73},{"p":"d","t":"t = 180","r":16,"lp":-2.82},{"p":"d","t":"t = 180","r":17,"lp":-2.89},{"p":"d","t":"t = 180","r":18,"lp":-2.96},{"p":"d","t":"t = 180","r":19,"lp":-3.03},{"p":"d","t":"t = 180","r":20,"lp":-3.1},{"p":"d","t":"t = 180","r":22,"lp":-3.25},{"p":"d","t":"t = 180","r":24,"lp":-3.37},{"p":"d","t":"t = 180","r":26,"lp":-3.48},{"p":"d","t":"t = 180","r":28,"lp":-3.6},{"p":"d","t":"t = 180","r":30,"lp":-3.7},{"p":"d","t":"t = 180","r":32,"lp":-3.82},{"p":"d","t":"t = 180","r":34,"lp":-3.91},{"p":"d","t":"t = 180","r":36,"lp":-4.0},{"p":"d","t":"t = 180","r":38,"lp":-4.08},{"p":"d","t":"t = 180","r":40,"lp":-4.15},{"p":"d","t":"t = 180","r":43,"lp":-4.27},{"p":"d","t":"t = 180","r":46,"lp":-4.39},{"p":"d","t":"t = 180","r":50,"lp":-4.53},{"p":"d","t":"t = 180","r":54,"lp":-4.7},{"p":"d","t":"t = 180","r":58,"lp":-4.87},{"p":"d","t":"t = 180","r":62,"lp":-5.05},{"p":"d","t":"t = 180","r":66,"lp":-5.22},{"p":"d","t":"t = 180","r":70,"lp":-5.4},{"p":"d","t":"t = 180","r":74,"lp":-5.6},{"p":"d","t":"t = 180","r":78,"lp":-5.8},{"p":"d","t":"t = 180","r":82,"lp":-6.03},{"p":"d","t":"t = 180","r":86,"lp":-6.27},{"p":"d","t":"t = 180","r":90,"lp":-6.5},{"p":"d","t":"t = 180","r":94,"lp":-6.75},{"p":"d","t":"t = 180","r":98,"lp":-6.98},{"p":"d","t":"t = 180","r":102,"lp":-7.22},{"p":"d","t":"t = 180","r":106,"lp":-7.45},{"p":"d","t":"t = 180","r":109,"lp":-7.6},{"p":"d","t":"t = 180","r":112,"lp":-7.6},
{"p":"d","t":"t = 240","r":1,"lp":-0.12},{"p":"d","t":"t = 240","r":2,"lp":-0.79},{"p":"d","t":"t = 240","r":3,"lp":-1.18},{"p":"d","t":"t = 240","r":4,"lp":-1.46},{"p":"d","t":"t = 240","r":5,"lp":-1.67},{"p":"d","t":"t = 240","r":6,"lp":-1.85},{"p":"d","t":"t = 240","r":7,"lp":-2.0},{"p":"d","t":"t = 240","r":8,"lp":-2.12},{"p":"d","t":"t = 240","r":9,"lp":-2.24},{"p":"d","t":"t = 240","r":10,"lp":-2.34},{"p":"d","t":"t = 240","r":11,"lp":-2.43},{"p":"d","t":"t = 240","r":12,"lp":-2.52},{"p":"d","t":"t = 240","r":13,"lp":-2.59},{"p":"d","t":"t = 240","r":14,"lp":-2.66},{"p":"d","t":"t = 240","r":15,"lp":-2.73},{"p":"d","t":"t = 240","r":16,"lp":-2.79},{"p":"d","t":"t = 240","r":17,"lp":-2.85},{"p":"d","t":"t = 240","r":18,"lp":-2.91},{"p":"d","t":"t = 240","r":19,"lp":-2.96},{"p":"d","t":"t = 240","r":20,"lp":-3.01},{"p":"d","t":"t = 240","r":22,"lp":-3.1},{"p":"d","t":"t = 240","r":24,"lp":-3.18},{"p":"d","t":"t = 240","r":26,"lp":-3.26},{"p":"d","t":"t = 240","r":28,"lp":-3.33},{"p":"d","t":"t = 240","r":30,"lp":-3.4},{"p":"d","t":"t = 240","r":33,"lp":-3.49},{"p":"d","t":"t = 240","r":36,"lp":-3.57},{"p":"d","t":"t = 240","r":40,"lp":-3.68},{"p":"d","t":"t = 240","r":45,"lp":-3.81},{"p":"d","t":"t = 240","r":50,"lp":-3.93},{"p":"d","t":"t = 240","r":55,"lp":-4.05},{"p":"d","t":"t = 240","r":60,"lp":-4.15},{"p":"d","t":"t = 240","r":65,"lp":-4.25},{"p":"d","t":"t = 240","r":70,"lp":-4.32},{"p":"d","t":"t = 240","r":75,"lp":-4.4},{"p":"d","t":"t = 240","r":80,"lp":-4.5},{"p":"d","t":"t = 240","r":85,"lp":-4.62},{"p":"d","t":"t = 240","r":90,"lp":-4.75},{"p":"d","t":"t = 240","r":95,"lp":-4.9},{"p":"d","t":"t = 240","r":100,"lp":-5.05},{"p":"d","t":"t = 240","r":105,"lp":-5.2},{"p":"d","t":"t = 240","r":110,"lp":-5.35},{"p":"d","t":"t = 240","r":115,"lp":-5.5},{"p":"d","t":"t = 240","r":120,"lp":-5.65},{"p":"d","t":"t = 240","r":125,"lp":-5.78},{"p":"d","t":"t = 240","r":130,"lp":-5.92},{"p":"d","t":"t = 240","r":135,"lp":-6.05},{"p":"d","t":"t = 240","r":140,"lp":-6.2},{"p":"d","t":"t = 240","r":145,"lp":-6.4},{"p":"d","t":"t = 240","r":150,"lp":-6.6},{"p":"d","t":"t = 240","r":155,"lp":-6.8},{"p":"d","t":"t = 240","r":160,"lp":-7.05},{"p":"d","t":"t = 240","r":164,"lp":-7.3},{"p":"d","t":"t = 240","r":168,"lp":-7.55},{"p":"d","t":"t = 240","r":171,"lp":-7.8},{"p":"d","t":"t = 240","r":174,"lp":-8.05},{"p":"d","t":"t = 240","r":176,"lp":-8.28},{"p":"d","t":"t = 240","r":178,"lp":-8.45},{"p":"d","t":"t = 240","r":180,"lp":-8.64},
{"p":"d","t":"t = 300","r":1,"lp":-0.12},{"p":"d","t":"t = 300","r":2,"lp":-0.79},{"p":"d","t":"t = 300","r":3,"lp":-1.18},{"p":"d","t":"t = 300","r":4,"lp":-1.46},{"p":"d","t":"t = 300","r":5,"lp":-1.67},{"p":"d","t":"t = 300","r":6,"lp":-1.85},{"p":"d","t":"t = 300","r":7,"lp":-2.0},{"p":"d","t":"t = 300","r":8,"lp":-2.12},{"p":"d","t":"t = 300","r":9,"lp":-2.24},{"p":"d","t":"t = 300","r":10,"lp":-2.34},{"p":"d","t":"t = 300","r":11,"lp":-2.43},{"p":"d","t":"t = 300","r":12,"lp":-2.52},{"p":"d","t":"t = 300","r":13,"lp":-2.59},{"p":"d","t":"t = 300","r":14,"lp":-2.66},{"p":"d","t":"t = 300","r":15,"lp":-2.73},{"p":"d","t":"t = 300","r":16,"lp":-2.79},{"p":"d","t":"t = 300","r":17,"lp":-2.85},{"p":"d","t":"t = 300","r":18,"lp":-2.91},{"p":"d","t":"t = 300","r":19,"lp":-2.96},{"p":"d","t":"t = 300","r":20,"lp":-3.01},{"p":"d","t":"t = 300","r":22,"lp":-3.1},{"p":"d","t":"t = 300","r":24,"lp":-3.18},{"p":"d","t":"t = 300","r":26,"lp":-3.26},{"p":"d","t":"t = 300","r":28,"lp":-3.33},{"p":"d","t":"t = 300","r":30,"lp":-3.4},{"p":"d","t":"t = 300","r":33,"lp":-3.49},{"p":"d","t":"t = 300","r":36,"lp":-3.57},{"p":"d","t":"t = 300","r":40,"lp":-3.68},{"p":"d","t":"t = 300","r":45,"lp":-3.79},{"p":"d","t":"t = 300","r":50,"lp":-3.89},{"p":"d","t":"t = 300","r":55,"lp":-3.96},{"p":"d","t":"t = 300","r":60,"lp":-4.03},{"p":"d","t":"t = 300","r":65,"lp":-4.09},{"p":"d","t":"t = 300","r":70,"lp":-4.15},{"p":"d","t":"t = 300","r":75,"lp":-4.22},{"p":"d","t":"t = 300","r":80,"lp":-4.3},{"p":"d","t":"t = 300","r":85,"lp":-4.37},{"p":"d","t":"t = 300","r":90,"lp":-4.43},{"p":"d","t":"t = 300","r":95,"lp":-4.5},{"p":"d","t":"t = 300","r":100,"lp":-4.55},{"p":"d","t":"t = 300","r":106,"lp":-4.62},{"p":"d","t":"t = 300","r":112,"lp":-4.68},{"p":"d","t":"t = 300","r":118,"lp":-4.74},{"p":"d","t":"t = 300","r":124,"lp":-4.84},{"p":"d","t":"t = 300","r":130,"lp":-4.95},{"p":"d","t":"t = 300","r":136,"lp":-5.07},{"p":"d","t":"t = 300","r":142,"lp":-5.2},{"p":"d","t":"t = 300","r":148,"lp":-5.35},{"p":"d","t":"t = 300","r":154,"lp":-5.52},{"p":"d","t":"t = 300","r":160,"lp":-5.68},{"p":"d","t":"t = 300","r":166,"lp":-5.85},{"p":"d","t":"t = 300","r":171,"lp":-6.0},{"p":"d","t":"t = 300","r":176,"lp":-6.12},{"p":"d","t":"t = 300","r":180,"lp":-6.25},{"p":"d","t":"t = 300","r":184,"lp":-6.42},{"p":"d","t":"t = 300","r":188,"lp":-6.6},{"p":"d","t":"t = 300","r":191,"lp":-6.75},{"p":"d","t":"t = 300","r":194,"lp":-6.89},{"p":"d","t":"t = 300","r":197,"lp":-7.1},{"p":"d","t":"t = 300","r":199,"lp":-7.35},{"p":"d","t":"t = 300","r":201,"lp":-7.62},{"p":"d","t":"t = 300","r":203,"lp":-7.8},{"p":"d","t":"t = 300","r":205,"lp":-7.95},{"p":"d","t":"t = 300","r":207,"lp":-8.1},{"p":"d","t":"t = 300","r":209,"lp":-8.25},{"p":"d","t":"t = 300","r":210,"lp":-8.35},{"p":"d","t":"t = 300","r":212,"lp":-8.55},{"p":"d","t":"t = 300","r":213,"lp":-8.7},{"p":"d","t":"t = 300","r":214,"lp":-8.85},{"p":"d","t":"t = 300","r":215,"lp":-8.95}
],
"fit": [
{"p":"a","r":0.97,"lp":0.2},{"p":"a","r":54,"lp":-9.2},
{"p":"b","r":0.83,"lp":-0.03},{"p":"b","r":95,"lp":-3.63},
{"p":"c","r":0.8,"lp":0.1},{"p":"c","r":69.5,"lp":-3.97},
{"p":"d","r":0.81,"lp":0.07},{"p":"d","r":74.5,"lp":-4.28}
],
"annTop": [
{"p":"a","k":"c","x":8.6,"y":-1.05,"txt":"Slope = -5.43"},{"p":"a","k":"r","x":240,"y":-0.7,"txt":"(a)"},{"p":"a","k":"r","x":240,"y":-2.18,"txt":"β₂ = 0"},
{"p":"b","k":"c","x":13.5,"y":-0.6,"txt":"Slope = -1.67"},{"p":"b","k":"r","x":222,"y":-0.6,"txt":"(b)"},{"p":"b","k":"r","x":222,"y":-1.97,"txt":"β₂ = 0.2"},
{"p":"c","k":"c","x":9.6,"y":-0.75,"txt":"Slope = -2.05"},{"p":"c","k":"r","x":192,"y":-0.51,"txt":"(c)"},{"p":"c","k":"r","x":192,"y":-1.88,"txt":"β₂ = 0.5"},
{"p":"d","k":"c","x":9.8,"y":-0.83,"txt":"Slope = -2.25"},{"p":"d","k":"r","x":220,"y":-0.51,"txt":"(d)"},{"p":"d","k":"r","x":220,"y":-1.74,"txt":"β₂ = 0.8"}
],
"curve": [
{"p":"e","n":1,"m":1.0},{"p":"e","n":3.16,"m":1.04},{"p":"e","n":10,"m":1.11},{"p":"e","n":31.6,"m":1.22},{"p":"e","n":100,"m":1.39},{"p":"e","n":316,"m":1.62},{"p":"e","n":1000,"m":1.95},{"p":"e","n":3162,"m":2.42},{"p":"e","n":1e4,"m":3.05},{"p":"e","n":3.16e4,"m":3.95},{"p":"e","n":1e5,"m":5.2},{"p":"e","n":3.16e5,"m":6.95},{"p":"e","n":1e6,"m":9.3},{"p":"e","n":3.16e6,"m":12.3},{"p":"e","n":1e7,"m":16},{"p":"e","n":3.16e7,"m":20.3},{"p":"e","n":1e8,"m":25},
{"p":"f","n":1,"m":1.0},{"p":"f","n":3.16,"m":1.05},{"p":"f","n":10,"m":1.13},{"p":"f","n":31.6,"m":1.3},{"p":"f","n":100,"m":1.62},{"p":"f","n":316,"m":2.25},{"p":"f","n":1000,"m":3.6},{"p":"f","n":3162,"m":6.2},{"p":"f","n":1e4,"m":13},{"p":"f","n":3.16e4,"m":27},{"p":"f","n":1e5,"m":50},{"p":"f","n":3.16e5,"m":82},{"p":"f","n":1e6,"m":118},{"p":"f","n":3.16e6,"m":160},{"p":"f","n":1e7,"m":192},
{"p":"g","n":1,"m":1.0},{"p":"g","n":3.16,"m":1.08},{"p":"g","n":10,"m":1.3},{"p":"g","n":31.6,"m":1.89},{"p":"g","n":100,"m":3.0},{"p":"g","n":316,"m":5.3},{"p":"g","n":1000,"m":9.7},{"p":"g","n":3162,"m":17.7},{"p":"g","n":1e4,"m":32.6},{"p":"g","n":3.16e4,"m":54},{"p":"g","n":1e5,"m":83},{"p":"g","n":3.16e5,"m":112},{"p":"g","n":1e6,"m":143},
{"p":"h","n":1,"m":1.0},{"p":"h","n":3.16,"m":1.1},{"p":"h","n":10,"m":1.45},{"p":"h","n":31.6,"m":2.3},{"p":"h","n":100,"m":3.9},{"p":"h","n":316,"m":6.7},{"p":"h","n":1000,"m":11.5},{"p":"h","n":3162,"m":19.5},{"p":"h","n":1e4,"m":31.5},{"p":"h","n":3.16e4,"m":50},{"p":"h","n":1e5,"m":76},{"p":"h","n":3.16e5,"m":102},{"p":"h","n":4.4e5,"m":110}
],
"dash": [
{"p":"e","n":6000,"m":3.47},{"p":"e","n":8.7e7,"m":27},
{"p":"f","n":700,"m":4.8},{"p":"f","n":6.5e4,"m":62.7},
{"p":"g","n":19.5,"m":2.07},{"p":"g","n":2.75e4,"m":62.7},
{"p":"h","n":22,"m":2.72},{"p":"h","n":2.47e4,"m":59.7}
],
"annBot": [
{"p":"e","k":"l","x":1.66,"y":21.8,"txt":"(e)"},{"p":"e","k":"c","x":1900,"y":11.3,"txt":"Slope = 0.23"},{"p":"e","k":"r","x":3.16e7,"y":1.0,"txt":"β₂ = 0.0"},
{"p":"f","k":"l","x":1.63,"y":120,"txt":"(f)"},{"p":"f","k":"c","x":400,"y":41,"txt":"Slope = 0.55"},{"p":"f","k":"r","x":3.1e6,"y":1.18,"txt":"β₂ = 0.2"},
{"p":"g","k":"l","x":1.6,"y":115,"txt":"(g)"},{"p":"g","k":"c","x":130,"y":35.7,"txt":"Slope = 0.47"},{"p":"g","k":"r","x":3.8e5,"y":1.13,"txt":"β₂ = 0.5"},
{"p":"h","k":"l","x":1.37,"y":120,"txt":"(h)"},{"p":"h","k":"c","x":96,"y":31,"txt":"Slope = 0.44"},{"p":"h","k":"r","x":3.98e5,"y":1.12,"txt":"β₂ = 0.8"}
]
},
"columns": 4,
"bounds": "flush",
"spacing": {"row": 42, "column": 34},
"concat": [
{
 "width": 240, "height": 215,
 "layer": [
  {"data": {"name": "pts"}, "transform": [{"filter": "datum.p == 'a'"}],
   "mark": {"type": "point", "filled": false, "size": 24, "strokeWidth": 1, "opacity": 1},
   "encoding": {
    "x": {"field": "r", "type": "quantitative", "scale": {"type": "log", "domain": [0.6, 320], "nice": false},
      "axis": {"orient": "bottom", "title": "Rank", "values": [0.7,0.8,0.9,1,2,3,4,5,6,7,8,9,10,20,30,40,50,60,70,80,90,100,200,300], "labelExpr": "datum.value == 1 || datum.value == 10 || datum.value == 100 ? format(datum.value, 'd') : ''", "tickSize": {"condition": {"test": "datum.value == 1 || datum.value == 10 || datum.value == 100", "value": -5}, "value": -3}, "labelPadding": 8, "labelFontSize": 12, "titleFontSize": 20, "titlePadding": 2}},
    "y": {"field": "lp", "type": "quantitative", "scale": {"domain": [-11, 0.22], "zero": false, "nice": false},
      "axis": {"orient": "left", "title": "P", "values": [-11,-10,-9,-8,-7,-6,-5,-4,-3,-2,-1,0], "labelExpr": "'10' + (datum.value < 0 ? '⁻' : '') + (abs(datum.value) >= 10 ? '¹' : '') + ['⁰','¹','²','³','⁴','⁵','⁶','⁷','⁸','⁹'][abs(datum.value) % 10]", "tickSize": -5, "labelPadding": 7, "labelFontSize": 11, "titleFontSize": 20, "titlePadding": 8}},
    "color": {"field": "t", "type": "nominal", "scale": {"domain": ["t = 20","t = 40","t = 60","t = 80","t = 100"], "range": ["#000000","#ff0000","#0000ff","#008080","#ff00ff"]}, "legend": {"orient": "none", "legendX": 13, "legendY": 126, "title": null, "labelOffset": 8}},
    "shape": {"field": "t", "type": "nominal", "scale": {"domain": ["t = 20","t = 40","t = 60","t = 80","t = 100"], "range": ["square","circle","triangle-up","triangle-down","triangle-left"]}, "legend": {"orient": "none", "legendX": 13, "legendY": 126, "title": null, "labelOffset": 8}}
   }},
  {"data": {"name": "fit"}, "transform": [{"filter": "datum.p == 'a'"}],
   "mark": {"type": "line", "color": "#000000", "strokeWidth": 1.5},
   "encoding": {
    "x": {"field": "r", "type": "quantitative", "axis": {"orient": "top", "title": null, "labels": false, "values": [0.7,0.8,0.9,1,2,3,4,5,6,7,8,9,10,20,30,40,50,60,70,80,90,100,200,300], "tickSize": {"condition": {"test": "datum.value == 1 || datum.value == 10 || datum.value == 100", "value": -5}, "value": -3}}},
    "y": {"field": "lp", "type": "quantitative", "axis": {"orient": "right", "title": null, "labels": false, "values": [-11,-10,-9,-8,-7,-6,-5,-4,-3,-2,-1,0], "tickSize": -5}}
   }},
  {"data": {"name": "annTop"}, "transform": [{"filter": "datum.p == 'a' && datum.k == 'c'"}],
   "mark": {"type": "text", "fontSize": 16.5, "align": "center", "baseline": "middle"},
   "encoding": {"x": {"field": "x", "type": "quantitative", "axis": null}, "y": {"field": "y", "type": "quantitative", "axis": null}, "text": {"field": "txt"}}},
  {"data": {"name": "annTop"}, "transform": [{"filter": "datum.p == 'a' && datum.k == 'r'"}],
   "mark": {"type": "text", "fontSize": 16.5, "align": "right", "baseline": "middle"},
   "encoding": {"x": {"field": "x", "type": "quantitative", "axis": null}, "y": {"field": "y", "type": "quantitative", "axis": null}, "text": {"field": "txt"}}}
 ],
 "resolve": {"axis": {"x": "independent", "y": "independent"}}
},
{
 "width": 251, "height": 215,
 "layer": [
  {"data": {"name": "pts"}, "transform": [{"filter": "datum.p == 'b'"}],
   "mark": {"type": "point", "filled": false, "size": 24, "strokeWidth": 1, "opacity": 1},
   "encoding": {
    "x": {"field": "r", "type": "quantitative", "scale": {"type": "log", "domain": [0.6, 320], "nice": false},
      "axis": {"orient": "bottom", "title": "Rank", "values": [0.7,0.8,0.9,1,2,3,4,5,6,7,8,9,10,20,30,40,50,60,70,80,90,100,200,300], "labelExpr": "datum.value == 1 || datum.value == 10 || datum.value == 100 ? format(datum.value, 'd') : ''", "tickSize": {"condition": {"test": "datum.value == 1 || datum.value == 10 || datum.value == 100", "value": -5}, "value": -3}, "labelPadding": 8, "labelFontSize": 12, "titleFontSize": 20, "titlePadding": 2}},
    "y": {"field": "lp", "type": "quantitative", "scale": {"domain": [-10, 0.32], "zero": false, "nice": false},
      "axis": {"orient": "left", "title": null, "values": [-10,-9,-8,-7,-6,-5,-4,-3,-2,-1,0], "labelExpr": "'10' + (datum.value < 0 ? '⁻' : '') + (abs(datum.value) >= 10 ? '¹' : '') + ['⁰','¹','²','³','⁴','⁵','⁶','⁷','⁸','⁹'][abs(datum.value) % 10]", "tickSize": -5, "labelPadding": 7, "labelFontSize": 11}},
    "color": {"field": "t", "type": "nominal", "scale": {"domain": ["t = 60","t = 120","t = 180","t = 240","t = 300"], "range": ["#000000","#ff0000","#0000ff","#008080","#ff00ff"]}, "legend": {"orient": "none", "legendX": 8, "legendY": 126, "title": null, "labelOffset": 13}},
    "shape": {"field": "t", "type": "nominal", "scale": {"domain": ["t = 60","t = 120","t = 180","t = 240","t = 300"], "range": ["square","circle","triangle-up","triangle-down","triangle-left"]}, "legend": {"orient": "none", "legendX": 8, "legendY": 126, "title": null, "labelOffset": 13}}
   }},
  {"data": {"name": "fit"}, "transform": [{"filter": "datum.p == 'b'"}],
   "mark": {"type": "line", "color": "#000000", "strokeWidth": 1.5},
   "encoding": {
    "x": {"field": "r", "type": "quantitative", "axis": {"orient": "top", "title": null, "labels": false, "values": [0.7,0.8,0.9,1,2,3,4,5,6,7,8,9,10,20,30,40,50,60,70,80,90,100,200,300], "tickSize": {"condition": {"test": "datum.value == 1 || datum.value == 10 || datum.value == 100", "value": -5}, "value": -3}}},
    "y": {"field": "lp", "type": "quantitative", "axis": {"orient": "right", "title": null, "labels": false, "values": [-10,-9,-8,-7,-6,-5,-4,-3,-2,-1,0], "tickSize": -5}}
   }},
  {"data": {"name": "annTop"}, "transform": [{"filter": "datum.p == 'b' && datum.k == 'c'"}],
   "mark": {"type": "text", "fontSize": 16.5, "align": "center", "baseline": "middle"},
   "encoding": {"x": {"field": "x", "type": "quantitative", "axis": null}, "y": {"field": "y", "type": "quantitative", "axis": null}, "text": {"field": "txt"}}},
  {"data": {"name": "annTop"}, "transform": [{"filter": "datum.p == 'b' && datum.k == 'r'"}],
   "mark": {"type": "text", "fontSize": 16.5, "align": "right", "baseline": "middle"},
   "encoding": {"x": {"field": "x", "type": "quantitative", "axis": null}, "y": {"field": "y", "type": "quantitative", "axis": null}, "text": {"field": "txt"}}}
 ],
 "resolve": {"axis": {"x": "independent", "y": "independent"}}
},
{
 "width": 243, "height": 215,
 "layer": [
  {"data": {"name": "pts"}, "transform": [{"filter": "datum.p == 'c'"}],
   "mark": {"type": "point", "filled": false, "size": 24, "strokeWidth": 1, "opacity": 1},
   "encoding": {
    "x": {"field": "r", "type": "quantitative", "scale": {"type": "log", "domain": [0.6, 320], "nice": false},
      "axis": {"orient": "bottom", "title": "Rank", "values": [0.7,0.8,0.9,1,2,3,4,5,6,7,8,9,10,20,30,40,50,60,70,80,90,100,200,300], "labelExpr": "datum.value == 1 || datum.value == 10 || datum.value == 100 ? format(datum.value, 'd') : ''", "tickSize": {"condition": {"test": "datum.value == 1 || datum.value == 10 || datum.value == 100", "value": -5}, "value": -3}, "labelPadding": 8, "labelFontSize": 12, "titleFontSize": 20, "titlePadding": 2}},
    "y": {"field": "lp", "type": "quantitative", "scale": {"domain": [-10, 0.32], "zero": false, "nice": false},
      "axis": {"orient": "left", "title": null, "values": [-10,-9,-8,-7,-6,-5,-4,-3,-2,-1,0], "labelExpr": "'10' + (datum.value < 0 ? '⁻' : '') + (abs(datum.value) >= 10 ? '¹' : '') + ['⁰','¹','²','³','⁴','⁵','⁶','⁷','⁸','⁹'][abs(datum.value) % 10]", "tickSize": -5, "labelPadding": 7, "labelFontSize": 11}},
    "color": {"field": "t", "type": "nominal", "scale": {"domain": ["t = 60","t = 120","t = 180","t = 240","t = 300"], "range": ["#000000","#ff0000","#0000ff","#008080","#ff00ff"]}, "legend": {"orient": "none", "legendX": 6, "legendY": 129, "title": null, "labelOffset": 18}},
    "shape": {"field": "t", "type": "nominal", "scale": {"domain": ["t = 60","t = 120","t = 180","t = 240","t = 300"], "range": ["square","circle","triangle-up","triangle-down","triangle-left"]}, "legend": {"orient": "none", "legendX": 6, "legendY": 129, "title": null, "labelOffset": 18}}
   }},
  {"data": {"name": "fit"}, "transform": [{"filter": "datum.p == 'c'"}],
   "mark": {"type": "line", "color": "#000000", "strokeWidth": 1.5},
   "encoding": {
    "x": {"field": "r", "type": "quantitative", "axis": {"orient": "top", "title": null, "labels": false, "values": [0.7,0.8,0.9,1,2,3,4,5,6,7,8,9,10,20,30,40,50,60,70,80,90,100,200,300], "tickSize": {"condition": {"test": "datum.value == 1 || datum.value == 10 || datum.value == 100", "value": -5}, "value": -3}}},
    "y": {"field": "lp", "type": "quantitative", "axis": {"orient": "right", "title": null, "labels": false, "values": [-10,-9,-8,-7,-6,-5,-4,-3,-2,-1,0], "tickSize": -5}}
   }},
  {"data": {"name": "annTop"}, "transform": [{"filter": "datum.p == 'c' && datum.k == 'c'"}],
   "mark": {"type": "text", "fontSize": 16.5, "align": "center", "baseline": "middle"},
   "encoding": {"x": {"field": "x", "type": "quantitative", "axis": null}, "y": {"field": "y", "type": "quantitative", "axis": null}, "text": {"field": "txt"}}},
  {"data": {"name": "annTop"}, "transform": [{"filter": "datum.p == 'c' && datum.k == 'r'"}],
   "mark": {"type": "text", "fontSize": 16.5, "align": "right", "baseline": "middle"},
   "encoding": {"x": {"field": "x", "type": "quantitative", "axis": null}, "y": {"field": "y", "type": "quantitative", "axis": null}, "text": {"field": "txt"}}}
 ],
 "resolve": {"axis": {"x": "independent", "y": "independent"}}
},
{
 "width": 250, "height": 215,
 "layer": [
  {"data": {"name": "pts"}, "transform": [{"filter": "datum.p == 'd'"}],
   "mark": {"type": "point", "filled": false, "size": 24, "strokeWidth": 1, "opacity": 1},
   "encoding": {
    "x": {"field": "r", "type": "quantitative", "scale": {"type": "log", "domain": [0.6, 320], "nice": false},
      "axis": {"orient": "bottom", "title": "Rank", "values": [0.7,0.8,0.9,1,2,3,4,5,6,7,8,9,10,20,30,40,50,60,70,80,90,100,200,300], "labelExpr": "datum.value == 1 || datum.value == 10 || datum.value == 100 ? format(datum.value, 'd') : ''", "tickSize": {"condition": {"test": "datum.value == 1 || datum.value == 10 || datum.value == 100", "value": -5}, "value": -3}, "labelPadding": 8, "labelFontSize": 12, "titleFontSize": 20, "titlePadding": 2}},
    "y": {"field": "lp", "type": "quantitative", "scale": {"domain": [-9, 0.25], "zero": false, "nice": false},
      "axis": {"orient": "left", "title": null, "values": [-9,-8,-7,-6,-5,-4,-3,-2,-1,0], "labelExpr": "'10' + (datum.value < 0 ? '⁻' : '') + (abs(datum.value) >= 10 ? '¹' : '') + ['⁰','¹','²','³','⁴','⁵','⁶','⁷','⁸','⁹'][abs(datum.value) % 10]", "tickSize": -5, "labelPadding": 7, "labelFontSize": 11}},
    "color": {"field": "t", "type": "nominal", "scale": {"domain": ["t = 60","t = 120","t = 180","t = 240","t = 300"], "range": ["#000000","#ff0000","#0000ff","#008080","#ff00ff"]}, "legend": {"orient": "none", "legendX": 9, "legendY": 127, "title": null, "labelOffset": 15}},
    "shape": {"field": "t", "type": "nominal", "scale": {"domain": ["t = 60","t = 120","t = 180","t = 240","t = 300"], "range": ["square","circle","triangle-up","triangle-down","triangle-left"]}, "legend": {"orient": "none", "legendX": 9, "legendY": 127, "title": null, "labelOffset": 15}}
   }},
  {"data": {"name": "fit"}, "transform": [{"filter": "datum.p == 'd'"}],
   "mark": {"type": "line", "color": "#000000", "strokeWidth": 1.5},
   "encoding": {
    "x": {"field": "r", "type": "quantitative", "axis": {"orient": "top", "title": null, "labels": false, "values": [0.7,0.8,0.9,1,2,3,4,5,6,7,8,9,10,20,30,40,50,60,70,80,90,100,200,300], "tickSize": {"condition": {"test": "datum.value == 1 || datum.value == 10 || datum.value == 100", "value": -5}, "value": -3}}},
    "y": {"field": "lp", "type": "quantitative", "axis": {"orient": "right", "title": null, "labels": false, "values": [-9,-8,-7,-6,-5,-4,-3,-2,-1,0], "tickSize": -5}}
   }},
  {"data": {"name": "annTop"}, "transform": [{"filter": "datum.p == 'd' && datum.k == 'c'"}],
   "mark": {"type": "text", "fontSize": 16.5, "align": "center", "baseline": "middle"},
   "encoding": {"x": {"field": "x", "type": "quantitative", "axis": null}, "y": {"field": "y", "type": "quantitative", "axis": null}, "text": {"field": "txt"}}},
  {"data": {"name": "annTop"}, "transform": [{"filter": "datum.p == 'd' && datum.k == 'r'"}],
   "mark": {"type": "text", "fontSize": 16.5, "align": "right", "baseline": "middle"},
   "encoding": {"x": {"field": "x", "type": "quantitative", "axis": null}, "y": {"field": "y", "type": "quantitative", "axis": null}, "text": {"field": "txt"}}}
 ],
 "resolve": {"axis": {"x": "independent", "y": "independent"}}
},
{
 "width": 240, "height": 202,
 "layer": [
  {"data": {"name": "curve"}, "transform": [{"filter": "datum.p == 'e'"}],
   "mark": {"type": "line", "color": "#000000", "strokeWidth": 1.1, "interpolate": "monotone"},
   "encoding": {
    "x": {"field": "n", "type": "quantitative", "scale": {"type": "log", "domain": [1, 1e8], "nice": false},
      "axis": {"orient": "bottom", "title": "Nₜ", "values": [1,2,3,4,5,6,7,8,9,10,20,30,40,50,60,70,80,90,100,200,300,400,500,600,700,800,900,1e3,2e3,3e3,4e3,5e3,6e3,7e3,8e3,9e3,1e4,2e4,3e4,4e4,5e4,6e4,7e4,8e4,9e4,1e5,2e5,3e5,4e5,5e5,6e5,7e5,8e5,9e5,1e6,2e6,3e6,4e6,5e6,6e6,7e6,8e6,9e6,1e7,2e7,3e7,4e7,5e7,6e7,7e7,8e7,9e7,1e8], "labelExpr": "abs(log(datum.value)/LN10 - round(log(datum.value)/LN10)) < 0.001 ? '10' + ['⁰','¹','²','³','⁴','⁵','⁶','⁷','⁸','⁹'][round(log(datum.value)/LN10)] : ''", "tickSize": {"condition": {"test": "abs(log(datum.value)/LN10 - round(log(datum.value)/LN10)) < 0.001", "value": -5}, "value": -3}, "labelPadding": 8, "labelFontSize": 12, "titleFontSize": 20, "titlePadding": 16}},
    "y": {"field": "m", "type": "quantitative", "scale": {"type": "log", "domain": [0.7, 30], "nice": false},
      "axis": {"orient": "left", "title": "M", "values": [0.8,0.9,1,2,3,4,5,6,7,8,9,10,20,30], "labelExpr": "datum.value == 1 || datum.value == 10 || datum.value == 100 ? format(datum.value, 'd') : ''", "tickSize": {"condition": {"test": "datum.value == 1 || datum.value == 10 || datum.value == 100", "value": -5}, "value": -3}, "labelPadding": 8, "labelFontSize": 11, "titleFontSize": 20, "titlePadding": 18}}
   }},
  {"data": {"name": "dash"}, "transform": [{"filter": "datum.p == 'e'"}],
   "mark": {"type": "line", "color": "#ff0000", "strokeWidth": 1.2, "strokeDash": [5, 4]},
   "encoding": {
    "x": {"field": "n", "type": "quantitative", "axis": {"orient": "top", "title": null, "labels": false, "values": [1,2,3,4,5,6,7,8,9,10,20,30,40,50,60,70,80,90,100,200,300,400,500,600,700,800,900,1e3,2e3,3e3,4e3,5e3,6e3,7e3,8e3,9e3,1e4,2e4,3e4,4e4,5e4,6e4,7e4,8e4,9e4,1e5,2e5,3e5,4e5,5e5,6e5,7e5,8e5,9e5,1e6,2e6,3e6,4e6,5e6,6e6,7e6,8e6,9e6,1e7,2e7,3e7,4e7,5e7,6e7,7e7,8e7,9e7,1e8], "tickSize": {"condition": {"test": "abs(log(datum.value)/LN10 - round(log(datum.value)/LN10)) < 0.001", "value": -5}, "value": -3}}},
    "y": {"field": "m", "type": "quantitative", "axis": {"orient": "right", "title": null, "labels": false, "values": [0.8,0.9,1,2,3,4,5,6,7,8,9,10,20,30], "tickSize": {"condition": {"test": "datum.value == 1 || datum.value == 10 || datum.value == 100", "value": -5}, "value": -3}}}
   }},
  {"data": {"name": "annBot"}, "transform": [{"filter": "datum.p == 'e' && datum.k == 'l'"}],
   "mark": {"type": "text", "fontSize": 16.5, "align": "left", "baseline": "middle"},
   "encoding": {"x": {"field": "x", "type": "quantitative", "axis": null}, "y": {"field": "y", "type": "quantitative", "axis": null}, "text": {"field": "txt"}}},
  {"data": {"name": "annBot"}, "transform": [{"filter": "datum.p == 'e' && datum.k == 'c'"}],
   "mark": {"type": "text", "fontSize": 16.5, "align": "center", "baseline": "middle"},
   "encoding": {"x": {"field": "x", "type": "quantitative", "axis": null}, "y": {"field": "y", "type": "quantitative", "axis": null}, "text": {"field": "txt"}}},
  {"data": {"name": "annBot"}, "transform": [{"filter": "datum.p == 'e' && datum.k == 'r'"}],
   "mark": {"type": "text", "fontSize": 16.5, "align": "right", "baseline": "middle"},
   "encoding": {"x": {"field": "x", "type": "quantitative", "axis": null}, "y": {"field": "y", "type": "quantitative", "axis": null}, "text": {"field": "txt"}}}
 ],
 "resolve": {"axis": {"x": "independent", "y": "independent"}}
},
{
 "width": 251, "height": 202,
 "layer": [
  {"data": {"name": "curve"}, "transform": [{"filter": "datum.p == 'f'"}],
   "mark": {"type": "line", "color": "#000000", "strokeWidth": 1.1, "interpolate": "monotone"},
   "encoding": {
    "x": {"field": "n", "type": "quantitative", "scale": {"type": "log", "domain": [1, 1e7], "nice": false},
      "axis": {"orient": "bottom", "title": "Nₜ", "values": [1,2,3,4,5,6,7,8,9,10,20,30,40,50,60,70,80,90,100,200,300,400,500,600,700,800,900,1e3,2e3,3e3,4e3,5e3,6e3,7e3,8e3,9e3,1e4,2e4,3e4,4e4,5e4,6e4,7e4,8e4,9e4,1e5,2e5,3e5,4e5,5e5,6e5,7e5,8e5,9e5,1e6,2e6,3e6,4e6,5e6,6e6,7e6,8e6,9e6,1e7], "labelExpr": "abs(log(datum.value)/LN10 - round(log(datum.value)/LN10)) < 0.001 ? '10' + ['⁰','¹','²','³','⁴','⁵','⁶','⁷','⁸','⁹'][round(log(datum.value)/LN10)] : ''", "tickSize": {"condition": {"test": "abs(log(datum.value)/LN10 - round(log(datum.value)/LN10)) < 0.001", "value": -5}, "value": -3}, "labelPadding": 8, "labelFontSize": 12, "titleFontSize": 20, "titlePadding": 16}},
    "y": {"field": "m", "type": "quantitative", "scale": {"type": "log", "domain": [0.7, 200], "nice": false},
      "axis": {"orient": "left", "title": null, "values": [0.8,0.9,1,2,3,4,5,6,7,8,9,10,20,30,40,50,60,70,80,90,100,200], "labelExpr": "datum.value == 1 || datum.value == 10 || datum.value == 100 ? format(datum.value, 'd') : ''", "tickSize": {"condition": {"test": "datum.value == 1 || datum.value == 10 || datum.value == 100", "value": -5}, "value": -3}, "labelPadding": 8, "labelFontSize": 11}}
   }},
  {"data": {"name": "dash"}, "transform": [{"filter": "datum.p == 'f'"}],
   "mark": {"type": "line", "color": "#ff0000", "strokeWidth": 1.2, "strokeDash": [5, 4]},
   "encoding": {
    "x": {"field": "n", "type": "quantitative", "axis": {"orient": "top", "title": null, "labels": false, "values": [1,2,3,4,5,6,7,8,9,10,20,30,40,50,60,70,80,90,100,200,300,400,500,600,700,800,900,1e3,2e3,3e3,4e3,5e3,6e3,7e3,8e3,9e3,1e4,2e4,3e4,4e4,5e4,6e4,7e4,8e4,9e4,1e5,2e5,3e5,4e5,5e5,6e5,7e5,8e5,9e5,1e6,2e6,3e6,4e6,5e6,6e6,7e6,8e6,9e6,1e7], "tickSize": {"condition": {"test": "abs(log(datum.value)/LN10 - round(log(datum.value)/LN10)) < 0.001", "value": -5}, "value": -3}}},
    "y": {"field": "m", "type": "quantitative", "axis": {"orient": "right", "title": null, "labels": false, "values": [0.8,0.9,1,2,3,4,5,6,7,8,9,10,20,30,40,50,60,70,80,90,100,200], "tickSize": {"condition": {"test": "datum.value == 1 || datum.value == 10 || datum.value == 100", "value": -5}, "value": -3}}}
   }},
  {"data": {"name": "annBot"}, "transform": [{"filter": "datum.p == 'f' && datum.k == 'l'"}],
   "mark": {"type": "text", "fontSize": 16.5, "align": "left", "baseline": "middle"},
   "encoding": {"x": {"field": "x", "type": "quantitative", "axis": null}, "y": {"field": "y", "type": "quantitative", "axis": null}, "text": {"field": "txt"}}},
  {"data": {"name": "annBot"}, "transform": [{"filter": "datum.p == 'f' && datum.k == 'c'"}],
   "mark": {"type": "text", "fontSize": 16.5, "align": "center", "baseline": "middle"},
   "encoding": {"x": {"field": "x", "type": "quantitative", "axis": null}, "y": {"field": "y", "type": "quantitative", "axis": null}, "text": {"field": "txt"}}},
  {"data": {"name": "annBot"}, "transform": [{"filter": "datum.p == 'f' && datum.k == 'r'"}],
   "mark": {"type": "text", "fontSize": 16.5, "align": "right", "baseline": "middle"},
   "encoding": {"x": {"field": "x", "type": "quantitative", "axis": null}, "y": {"field": "y", "type": "quantitative", "axis": null}, "text": {"field": "txt"}}}
 ],
 "resolve": {"axis": {"x": "independent", "y": "independent"}}
},
{
 "width": 243, "height": 202,
 "layer": [
  {"data": {"name": "curve"}, "transform": [{"filter": "datum.p == 'g'"}],
   "mark": {"type": "line", "color": "#000000", "strokeWidth": 1.1, "interpolate": "monotone"},
   "encoding": {
    "x": {"field": "n", "type": "quantitative", "scale": {"type": "log", "domain": [1, 1e6], "nice": false},
      "axis": {"orient": "bottom", "title": "Nₜ", "values": [1,2,3,4,5,6,7,8,9,10,20,30,40,50,60,70,80,90,100,200,300,400,500,600,700,800,900,1e3,2e3,3e3,4e3,5e3,6e3,7e3,8e3,9e3,1e4,2e4,3e4,4e4,5e4,6e4,7e4,8e4,9e4,1e5,2e5,3e5,4e5,5e5,6e5,7e5,8e5,9e5,1e6], "labelExpr": "abs(log(datum.value)/LN10 - round(log(datum.value)/LN10)) < 0.001 ? '10' + ['⁰','¹','²','³','⁴','⁵','⁶','⁷','⁸','⁹'][round(log(datum.value)/LN10)] : ''", "tickSize": {"condition": {"test": "abs(log(datum.value)/LN10 - round(log(datum.value)/LN10)) < 0.001", "value": -5}, "value": -3}, "labelPadding": 8, "labelFontSize": 12, "titleFontSize": 20, "titlePadding": 16}},
    "y": {"field": "m", "type": "quantitative", "scale": {"type": "log", "domain": [0.7, 200], "nice": false},
      "axis": {"orient": "left", "title": null, "values": [0.8,0.9,1,2,3,4,5,6,7,8,9,10,20,30,40,50,60,70,80,90,100,200], "labelExpr": "datum.value == 1 || datum.value == 10 || datum.value == 100 ? format(datum.value, 'd') : ''", "tickSize": {"condition": {"test": "datum.value == 1 || datum.value == 10 || datum.value == 100", "value": -5}, "value": -3}, "labelPadding": 8, "labelFontSize": 11}}
   }},
  {"data": {"name": "dash"}, "transform": [{"filter": "datum.p == 'g'"}],
   "mark": {"type": "line", "color": "#ff0000", "strokeWidth": 1.2, "strokeDash": [5, 4]},
   "encoding": {
    "x": {"field": "n", "type": "quantitative", "axis": {"orient": "top", "title": null, "labels": false, "values": [1,2,3,4,5,6,7,8,9,10,20,30,40,50,60,70,80,90,100,200,300,400,500,600,700,800,900,1e3,2e3,3e3,4e3,5e3,6e3,7e3,8e3,9e3,1e4,2e4,3e4,4e4,5e4,6e4,7e4,8e4,9e4,1e5,2e5,3e5,4e5,5e5,6e5,7e5,8e5,9e5,1e6], "tickSize": {"condition": {"test": "abs(log(datum.value)/LN10 - round(log(datum.value)/LN10)) < 0.001", "value": -5}, "value": -3}}},
    "y": {"field": "m", "type": "quantitative", "axis": {"orient": "right", "title": null, "labels": false, "values": [0.8,0.9,1,2,3,4,5,6,7,8,9,10,20,30,40,50,60,70,80,90,100,200], "tickSize": {"condition": {"test": "datum.value == 1 || datum.value == 10 || datum.value == 100", "value": -5}, "value": -3}}}
   }},
  {"data": {"name": "annBot"}, "transform": [{"filter": "datum.p == 'g' && datum.k == 'l'"}],
   "mark": {"type": "text", "fontSize": 16.5, "align": "left", "baseline": "middle"},
   "encoding": {"x": {"field": "x", "type": "quantitative", "axis": null}, "y": {"field": "y", "type": "quantitative", "axis": null}, "text": {"field": "txt"}}},
  {"data": {"name": "annBot"}, "transform": [{"filter": "datum.p == 'g' && datum.k == 'c'"}],
   "mark": {"type": "text", "fontSize": 16.5, "align": "center", "baseline": "middle"},
   "encoding": {"x": {"field": "x", "type": "quantitative", "axis": null}, "y": {"field": "y", "type": "quantitative", "axis": null}, "text": {"field": "txt"}}},
  {"data": {"name": "annBot"}, "transform": [{"filter": "datum.p == 'g' && datum.k == 'r'"}],
   "mark": {"type": "text", "fontSize": 16.5, "align": "right", "baseline": "middle"},
   "encoding": {"x": {"field": "x", "type": "quantitative", "axis": null}, "y": {"field": "y", "type": "quantitative", "axis": null}, "text": {"field": "txt"}}}
 ],
 "resolve": {"axis": {"x": "independent", "y": "independent"}}
},
{
 "width": 250, "height": 202,
 "layer": [
  {"data": {"name": "curve"}, "transform": [{"filter": "datum.p == 'h'"}],
   "mark": {"type": "line", "color": "#000000", "strokeWidth": 1.1, "interpolate": "monotone"},
   "encoding": {
    "x": {"field": "n", "type": "quantitative", "scale": {"type": "log", "domain": [1, 1e6], "nice": false},
      "axis": {"orient": "bottom", "title": "Nₜ", "values": [1,2,3,4,5,6,7,8,9,10,20,30,40,50,60,70,80,90,100,200,300,400,500,600,700,800,900,1e3,2e3,3e3,4e3,5e3,6e3,7e3,8e3,9e3,1e4,2e4,3e4,4e4,5e4,6e4,7e4,8e4,9e4,1e5,2e5,3e5,4e5,5e5,6e5,7e5,8e5,9e5,1e6], "labelExpr": "abs(log(datum.value)/LN10 - round(log(datum.value)/LN10)) < 0.001 ? '10' + ['⁰','¹','²','³','⁴','⁵','⁶','⁷','⁸','⁹'][round(log(datum.value)/LN10)] : ''", "tickSize": {"condition": {"test": "abs(log(datum.value)/LN10 - round(log(datum.value)/LN10)) < 0.001", "value": -5}, "value": -3}, "labelPadding": 8, "labelFontSize": 12, "titleFontSize": 20, "titlePadding": 16}},
    "y": {"field": "m", "type": "quantitative", "scale": {"type": "log", "domain": [0.7, 200], "nice": false},
      "axis": {"orient": "left", "title": null, "values": [0.8,0.9,1,2,3,4,5,6,7,8,9,10,20,30,40,50,60,70,80,90,100,200], "labelExpr": "datum.value == 1 || datum.value == 10 || datum.value == 100 ? format(datum.value, 'd') : ''", "tickSize": {"condition": {"test": "datum.value == 1 || datum.value == 10 || datum.value == 100", "value": -5}, "value": -3}, "labelPadding": 8, "labelFontSize": 11}}
   }},
  {"data": {"name": "dash"}, "transform": [{"filter": "datum.p == 'h'"}],
   "mark": {"type": "line", "color": "#ff0000", "strokeWidth": 1.2, "strokeDash": [5, 4]},
   "encoding": {
    "x": {"field": "n", "type": "quantitative", "axis": {"orient": "top", "title": null, "labels": false, "values": [1,2,3,4,5,6,7,8,9,10,20,30,40,50,60,70,80,90,100,200,300,400,500,600,700,800,900,1e3,2e3,3e3,4e3,5e3,6e3,7e3,8e3,9e3,1e4,2e4,3e4,4e4,5e4,6e4,7e4,8e4,9e4,1e5,2e5,3e5,4e5,5e5,6e5,7e5,8e5,9e5,1e6], "tickSize": {"condition": {"test": "abs(log(datum.value)/LN10 - round(log(datum.value)/LN10)) < 0.001", "value": -5}, "value": -3}}},
    "y": {"field": "m", "type": "quantitative", "axis": {"orient": "right", "title": null, "labels": false, "values": [0.8,0.9,1,2,3,4,5,6,7,8,9,10,20,30,40,50,60,70,80,90,100,200], "tickSize": {"condition": {"test": "datum.value == 1 || datum.value == 10 || datum.value == 100", "value": -5}, "value": -3}}}
   }},
  {"data": {"name": "annBot"}, "transform": [{"filter": "datum.p == 'h' && datum.k == 'l'"}],
   "mark": {"type": "text", "fontSize": 16.5, "align": "left", "baseline": "middle"},
   "encoding": {"x": {"field": "x", "type": "quantitative", "axis": null}, "y": {"field": "y", "type": "quantitative", "axis": null}, "text": {"field": "txt"}}},
  {"data": {"name": "annBot"}, "transform": [{"filter": "datum.p == 'h' && datum.k == 'c'"}],
   "mark": {"type": "text", "fontSize": 16.5, "align": "center", "baseline": "middle"},
   "encoding": {"x": {"field": "x", "type": "quantitative", "axis": null}, "y": {"field": "y", "type": "quantitative", "axis": null}, "text": {"field": "txt"}}},
  {"data": {"name": "annBot"}, "transform": [{"filter": "datum.p == 'h' && datum.k == 'r'"}],
   "mark": {"type": "text", "fontSize": 16.5, "align": "right", "baseline": "middle"},
   "encoding": {"x": {"field": "x", "type": "quantitative", "axis": null}, "y": {"field": "y", "type": "quantitative", "axis": null}, "text": {"field": "txt"}}}
 ],
 "resolve": {"axis": {"x": "independent", "y": "independent"}}
}
],
"config": {
 "font": "Liberation Sans",
 "view": {"stroke": "#000000", "strokeWidth": 1},
 "axis": {"grid": false, "domainColor": "#000000", "tickColor": "#000000", "labelColor": "#000000", "titleColor": "#000000", "labelFont": "Liberation Sans", "titleFont": "Liberation Sans", "titleFontWeight": "normal", "labelFlush": false, "labelOverlap": false, "labelBound": false, "tickWidth": 1, "domainWidth": 1},
 "legend": {"labelFont": "Liberation Sans", "labelFontSize": 13, "labelColor": "#000000", "symbolStrokeWidth": 2, "symbolSize": 60, "rowPadding": 1, "padding": 0},
 "text": {"font": "Liberation Sans", "color": "#000000"}
}
}
